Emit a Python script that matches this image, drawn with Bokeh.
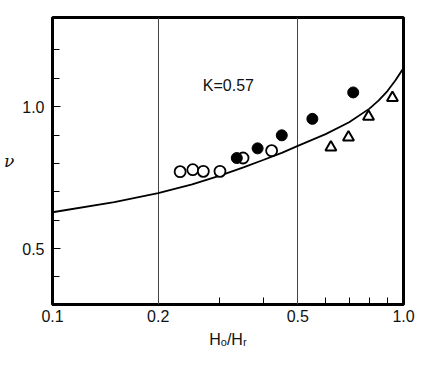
from bokeh.plotting import figure
from bokeh.models import Range1d, FixedTicker, Label
from bokeh.embed import file_html
from bokeh.resources import INLINE

# data
open_x = [0.231, 0.251, 0.269, 0.300, 0.349, 0.421]
open_y = [0.771, 0.778, 0.772, 0.772, 0.819, 0.845]

filled_x = [0.335, 0.384, 0.450, 0.550, 0.719]
filled_y = [0.819, 0.853, 0.899, 0.957, 1.050]

tri_x = [0.621, 0.697, 0.795, 0.930]
tri_y = [0.857, 0.892, 0.965, 1.031]

curve_x = [0.10, 0.15, 0.20, 0.25, 0.30, 0.35, 0.40, 0.45, 0.50, 0.60, 0.70, 0.80, 0.85, 0.90, 0.95, 1.00]
curve_y = [0.628, 0.664, 0.695, 0.726, 0.757, 0.786, 0.813, 0.837, 0.862, 0.903, 0.945, 0.993, 1.022, 1.055, 1.094, 1.136]

x_major = [0.1, 0.2, 0.5, 1.0]
x_minor = [0.3, 0.4, 0.6, 0.7, 0.8, 0.9]
x_labels = {0.1: "0.1", 0.2: "0.2", 0.5: "0.5", 1.0: "1.0"}
y_major = [0.5, 1.0]
y_minor = [0.4, 0.6, 0.7, 0.8, 0.9, 1.1, 1.2]
y_labels = {0.5: "0.5", 1.0: "1.0"}

annot_text = "K=0.57"
annot_x, annot_y = 0.268, 1.074

FONT = "Liberation Sans"

p = figure(width=441, height=370, x_axis_type="log",
           x_range=Range1d(0.1, 1.0), y_range=Range1d(0.303, 1.314),
           output_backend="svg", toolbar_location=None,
           min_border_left=52, min_border_top=17, min_border_right=38, min_border_bottom=66)

p.background_fill_color = "white"
p.border_fill_color = "white"
p.outline_line_color = "black"
p.outline_line_width = 3

# grid
p.ygrid.visible = False
p.xgrid.ticker = FixedTicker(ticks=[0.2, 0.5])
p.xgrid.grid_line_color = "#444444"
p.xgrid.grid_line_width = 1
p.xgrid.grid_line_alpha = 1.0

# x axis
xa = p.xaxis[0]
xa.ticker = FixedTicker(ticks=x_major, minor_ticks=x_minor)
xa.major_label_overrides = x_labels
xa.axis_line_color = None
xa.major_tick_in = 0
xa.major_tick_out = 0
xa.minor_tick_in = 7
xa.minor_tick_out = 0
xa.minor_tick_line_color = "black"
xa.minor_tick_line_width = 1
xa.major_label_standoff = 5
xa.major_label_text_font = FONT
xa.major_label_text_font_size = "16px"
xa.major_label_text_color = "#111111"
xa.axis_label = "H\u2092/H\u1d63"
xa.axis_label_text_font = FONT
xa.axis_label_text_font_style = "normal"
xa.axis_label_text_font_size = "16px"
xa.axis_label_text_color = "#111111"
xa.axis_label_standoff = 6

# y axis
ya = p.yaxis[0]
ya.ticker = FixedTicker(ticks=y_major, minor_ticks=y_minor)
ya.major_label_overrides = y_labels
ya.axis_line_color = None
ya.major_tick_in = 8
ya.major_tick_out = 0
ya.major_tick_line_color = "black"
ya.major_tick_line_width = 1
ya.minor_tick_in = 7
ya.minor_tick_out = 0
ya.minor_tick_line_color = "black"
ya.minor_tick_line_width = 1
ya.major_label_standoff = 8
ya.major_label_text_font = FONT
ya.major_label_text_font_size = "16px"
ya.major_label_text_color = "#111111"
ya.axis_label = "\u03bd"
ya.axis_label_orientation = "horizontal"
ya.axis_label_text_font = "DejaVu Serif"
ya.axis_label_text_font_style = "italic"
ya.axis_label_text_font_size = "17px"
ya.axis_label_text_color = "#111111"
ya.axis_label_standoff = 5

# curve
p.line(curve_x, curve_y, line_color="black", line_width=1.8)

# markers
p.scatter(open_x, open_y, marker="circle", size=11, fill_color="white",
          line_color="black", line_width=1.8)
p.scatter(filled_x, filled_y, marker="circle", size=11, fill_color="black",
          line_color="black", line_width=1)
p.scatter(tri_x, tri_y, marker="triangle", size=11, fill_color="white",
          line_color="black", line_width=2)

p.add_layout(Label(x=annot_x, y=annot_y, text=annot_text, text_font=FONT,
                   text_font_size="16px", text_baseline="middle", text_align="left",
                   text_color="#111111"))

open("out.html", "w").write(file_html(p, INLINE))
